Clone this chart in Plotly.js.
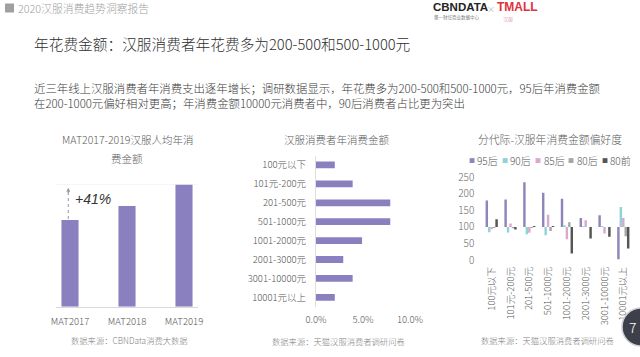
<!DOCTYPE html>
<html><head><meta charset="utf-8">
<script src="https://cdn.plot.ly/plotly-3.0.1.min.js"></script>
<style>html,body{margin:0;padding:0;background:#fff;}#c{width:640px;height:357px;}</style>
</head><body><div id="c"></div>
<script>
// ---- data ----
const years = ['MAT2017', 'MAT2018', 'MAT2019'];
const perCapitaIndex = [100, 116, 141];
const spendBands = ['100元以下', '101元-200元', '201-500元', '501-1000元', '1001-2000元', '2001-3000元', '3001-10000元', '10001元以上'];
const spendShare = [2.0, 3.9, 7.9, 7.9, 4.9, 2.9, 3.9, 2.0];
const shareTicks = [0, 5, 10];
const genNames = ['95后', '90后', '85后', '80后', '80前'];
const pref95 = [180, 183, 235, 203, 185, 127, 135, 2];
const pref90 = [84, 83, 78, 75, 105, 102, 103, 160];
const pref85 = [93, 110, 82, 137, 63, 120, 80, 127];
const pref80 = [97, 96, 97, 88, 114, 100, 100, 72];
const pref80pre = [123, 92, 103, 103, 20, 65, 70, 35];
const prefTicks = [0, 50, 100, 150, 200, 250];
const growthLabel = '+41%';

const FONT = '"Noto Sans CJK SC", "Noto Sans", sans-serif';
const W = 640, H = 357;
const px = v => v / W, py = v => 1 - v / H;
const purple = '#8a80c0';
const genColors = ['#8e86bb', '#8fd3d8', '#dca7cf', '#a6a6a6', '#555555'];
const genSeries = [pref95, pref90, pref85, pref80, pref80pre];

const traces = [];
traces.push({type: 'bar', x: years, y: perCapitaIndex, xaxis: 'x', yaxis: 'y', width: 0.3,
  marker: {color: purple}, hoverinfo: 'none'});
traces.push({type: 'bar', orientation: 'h', y: spendBands, x: spendShare, xaxis: 'x2', yaxis: 'y2', width: 0.36,
  marker: {color: purple}, hoverinfo: 'none'});
genNames.forEach((n, i) => {
  traces.push({type: 'bar', name: n, x: spendBands, y: genSeries[i].map(v => v - 100), base: 100,
    xaxis: 'x3', yaxis: 'y3', marker: {color: genColors[i]}, hoverinfo: 'none'});
});

const ann = [];
const A = (text, x, y, size, color, opts) => Object.assign({text, x: px(x), y: py(y), xref: 'paper', yref: 'paper',
  showarrow: false, font: {size, color, family: FONT, weight: 300}, xanchor: 'center', yanchor: 'middle'}, opts || {});

// header & titles
ann.push(A('2020汉服消费趋势洞察报告', 16, 8, 10.8, '#a0a0a0', {xanchor: 'left'}));
ann.push(A('<b>CBNDATA</b>', 431, 6.5, 11.5, '#222', {xanchor: 'left', font: {size: 11.5, color: '#222', family: 'Liberation Sans, sans-serif'}}));
ann.push(A('第一财经商业数据中心', 432, 17, 4.5, '#444', {xanchor: 'left'}));
ann.push(A('×', 490.5, 8, 8, '#999', {xanchor: 'center'}));
ann.push(A('<b>TMALL</b>', 495, 6.5, 12, '#e0303a', {xanchor: 'left', font: {size: 12, color: '#e0303a', family: 'Liberation Sans, sans-serif'}}));
ann.push(A('汉服', 508, 19, 5, '#e07a9a', {xanchor: 'center'}));
ann.push(A('年花费金额：汉服消费者年花费多为200-500和500-1000元', 32, 43, 14.7, '#2e2e2e', {xanchor: 'left'}));
ann.push(A('近三年线上汉服消费者年消费支出逐年增长；调研数据显示，年花费多为200-500和500-1000元，95后年消费金额<br>在200-1000元偏好相对更高；年消费金额10000元消费者中，90后消费者占比更为突出',
  32, 96, 11.4, '#3a3a3a', {xanchor: 'left', align: 'left'}));

// chart titles
ann.push(A('MAT2017-2019汉服人均年消', 127, 139.5, 10.5, '#5a5a5a'));
ann.push(A('费金额', 127, 158, 10.5, '#5a5a5a'));
ann.push(A('汉服消费者年消费金额', 337, 140, 10.5, '#5a5a5a'));
ann.push(A('分代际-汉服年消费金额偏好度', 550, 139, 10.8, '#5a5a5a'));
// sources
ann.push(A('数据来源：CBNData消费大数据', 129, 340, 8.3, '#808080'));
ann.push(A('数据来源：天猫汉服消费者调研问卷', 338, 340.5, 8.3, '#808080'));
ann.push(A('数据来源：天猫汉服消费者调研问卷', 547, 340, 8.3, '#808080'));

// growth annotation
ann.push({text: '', x: -0.03, y: 137, xref: 'x', yref: 'y', showarrow: true, ax: 0, ay: 7, axref: 'pixel', ayref: 'pixel',
  arrowhead: 2, arrowsize: 0.8, arrowwidth: 1, arrowcolor: '#999'});
ann.push({text: growthLabel, x: 0.41, y: 124, xref: 'x', yref: 'y', showarrow: false,
  font: {size: 14, color: '#333', family: 'Liberation Sans, sans-serif', style: 'italic'}});

// legend for chart 3 (manual)
genNames.forEach((n, i) => {
  const x0 = 471.5 + i * 33.3;
  ann.push(A('■', x0, 160.5, 6, genColors[i]));
  ann.push(A(n, x0 + 3.5, 160.7, 10, '#555', {xanchor: 'left'}));
});

// page badge
ann.push(A('7', 633, 327, 14, '#fff'));

const shapes = [
  {type: 'rect', xref: 'paper', yref: 'paper', x0: px(5), x1: px(14), y0: py(3.5), y1: py(12.5), fillcolor: '#a0a0a0', line: {width: 0}},
  {type: 'line', xref: 'x', yref: 'y', x0: -0.03, x1: -0.03, y0: 101, y1: 133, line: {color: '#999', width: 1, dash: 'dot'}},
  {type: 'line', xref: 'x', yref: 'y', x0: -0.25, x1: 2.25, y0: 141, y1: 141, line: {color: '#eeeeee', width: 1}},
  {type: 'circle', xref: 'paper', yref: 'paper', x0: px(622), x1: px(660), y0: py(346), y1: py(308), fillcolor: '#3d3f4a', line: {color: '#cfcfd4', width: 1.5}, layer: 'above'}
];

const tickFont = {size: 9.5, color: '#555', family: FONT, weight: 300};
const layout = {
  width: W, height: H, margin: {l: 0, r: 0, t: 0, b: 0},
  paper_bgcolor: '#fff', plot_bgcolor: 'rgba(0,0,0,0)',
  showlegend: false, barmode: 'group', bargap: 0.35, bargroupgap: 0,
  font: {family: FONT},
  xaxis: {domain: [px(55.75), px(198.25)], range: [-0.25, 2.25], type: 'category', showline: true, linecolor: '#d9d9d9',
    showgrid: false, ticks: '', tickfont: tickFont, ticklabelstandoff: 6, fixedrange: true, anchor: 'y'},
  yaxis: {domain: [py(306.7), py(184.3)], range: [0, 141], showgrid: false, zeroline: false, showticklabels: false, anchor: 'x', fixedrange: true},
  xaxis2: {domain: [px(316), px(410)], range: [0, 10], tickmode: 'array', tickvals: shareTicks, ticktext: shareTicks.map(v => v.toFixed(1) + '%'),
    showgrid: false, zeroline: false, ticks: '', tickfont: tickFont, ticklabelstandoff: 6, anchor: 'y2', fixedrange: true},
  yaxis2: {domain: [py(306.8), py(155.5)], type: 'category', range: [7.5, -0.5], showline: true, linecolor: '#dedede',
    showgrid: false, ticks: '', tickfont: tickFont, ticklabelstandoff: 7, anchor: 'x2', fixedrange: true},
  xaxis3: {domain: [px(482.3), px(632.7)], range: [-0.5, 7.5], type: 'category', tickangle: -90, showgrid: false, showline: false,
    ticks: '', tickfont: tickFont, ticklabelstandoff: 4, anchor: 'y3', fixedrange: true},
  yaxis3: {domain: [py(260), py(177.3)], range: [0, 250], tickmode: 'array', tickvals: prefTicks, showgrid: false, zeroline: false,
    ticks: '', tickfont: {size: 10, color: '#666', family: FONT, weight: 300}, ticklabelstandoff: 7, anchor: 'x3', fixedrange: true},
  annotations: ann, shapes: shapes
};
Plotly.newPlot('c', traces, layout, {displayModeBar: false, staticPlot: true});
</script></body></html>
